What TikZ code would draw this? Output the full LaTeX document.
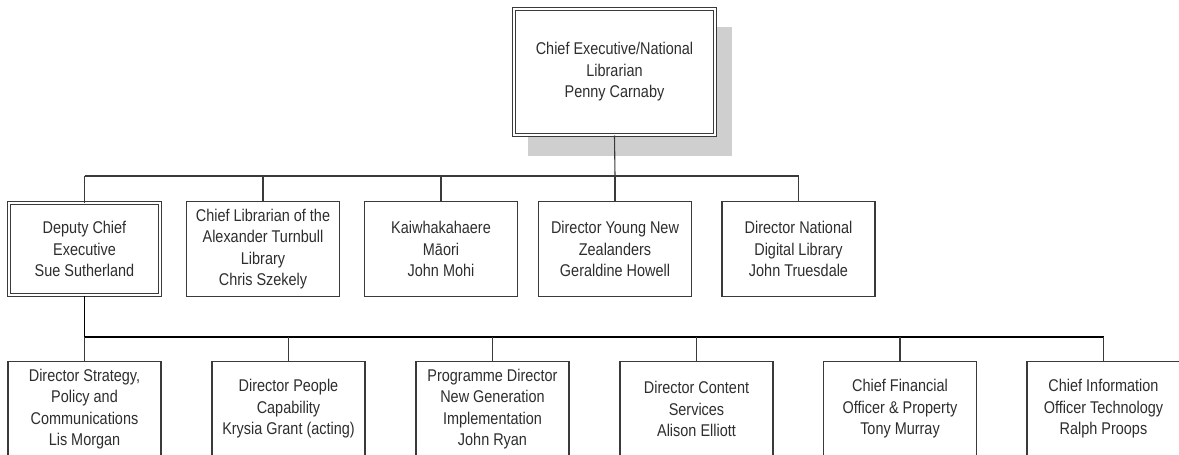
\documentclass[tikz,border=0pt]{standalone}
\usepackage{fontspec}
\setmainfont{Liberation Sans}[FakeStretch=0.85]
\newcommand{\boxfont}{\fontsize{17}{21.4}\selectfont}
\definecolor{linec}{HTML}{3A3A3A}
\definecolor{txt}{HTML}{2E2E2E}
\definecolor{shadowc}{HTML}{CFCFCF}
\begin{document}
\begin{tikzpicture}[x=1pt,y=-1pt,
  box/.style={draw=linec, line width=1.2pt, fill=white, minimum width=153pt,
    minimum height=95pt, inner sep=0pt, align=center, font=\boxfont, text=txt},
  dbox/.style={box, double=white, double distance=1.6pt, line width=1pt},
  conn/.style={draw=linec, line width=1.1pt},
  thick conn/.style={draw=black, line width=1.8pt}]
\useasboundingbox (0,0) rectangle (1179,455);
\fill[white] (0,0) rectangle (1179,455);
\clip (0,0) rectangle (1179,455);
% shadow of top box
\fill[shadowc] (528,27) rectangle (732,156);
% top
\node[dbox, minimum width=201pt, minimum height=126pt] (ce) at (614.5,72)
  {Chief Executive/National\\Librarian\\Penny Carnaby};
% level 2
\node[dbox, minimum width=151pt, minimum height=92pt] (dce) at (84.5,249)
  {Deputy Chief\\Executive\\Sue Sutherland};
\node[box] (cl) at (263,249) {Chief Librarian of the\\Alexander Turnbull\\Library\\Chris Szekely};
\node[box] (km) at (441,249) {Kaiwhakahaere\\Māori\\John Mohi};
\node[box] (dy) at (615,249) {Director Young New\\Zealanders\\Geraldine Howell};
\node[box] (dn) at (798.5,249) {Director National\\Digital Library\\John Truesdale};
% level 3
\node[box] (ds) at (84.5,409) {Director Strategy,\\Policy and\\Communications\\Lis Morgan};
\node[box] (dp) at (288.5,409) {Director People\\Capability\\Krysia Grant (acting)};
\node[box] (pd) at (492.5,409) {Programme Director\\New Generation\\Implementation\\John Ryan};
\node[box] (dc) at (696.5,409) {Director Content\\Services\\Alison Elliott};
\node[box] (cf) at (900,409) {Chief Financial\\Officer \& Property\\Tony Murray};
\node[box] (ci) at (1103.5,409) {Chief Information\\Officer Technology\\Ralph Proops};
% level 2 connectors
\coordinate (b2) at (615,176);
\draw[conn] (ce.south) -- (b2);
\draw[conn] (dce.north |- b2) -- (dn.north |- b2);
\foreach \n in {dce,cl,km,dy,dn} \draw[conn] (\n.north |- b2) -- (\n.north);
% level 3 connectors
\coordinate (b3) at (84.5,337);
\draw[thick conn] (dce.south) -- (b3);
\draw[draw=black, line width=1.5pt] (b3) -- (ci.north |- b3);
\foreach \n in {ds,dp,pd,dc,cf,ci} \draw[conn] (\n.north |- b3) -- (\n.north);
\end{tikzpicture}
\end{document}
